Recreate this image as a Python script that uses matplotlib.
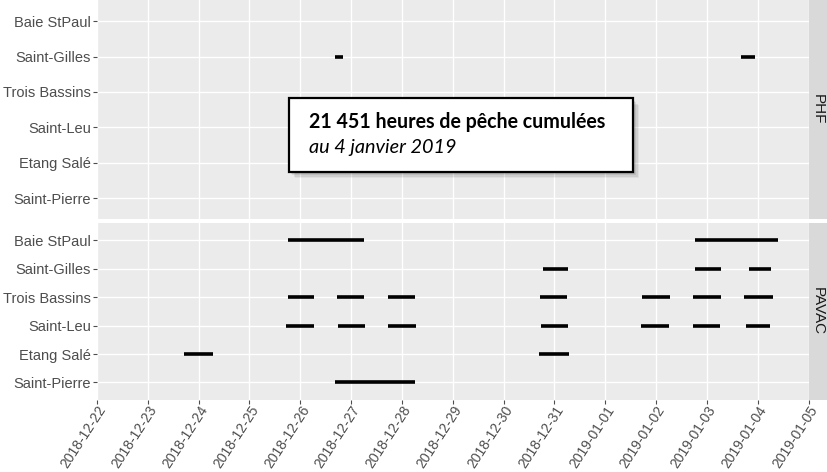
import matplotlib
matplotlib.use("Agg")
import matplotlib.pyplot as plt
import matplotlib.dates as mdates
import matplotlib.transforms as mtransforms
from matplotlib.patches import Rectangle
import pandas as pd

categories = ["Baie StPaul", "Saint-Gilles", "Trois Bassins", "Saint-Leu", "Etang Salé", "Saint-Pierre"]
facets = ["PHF", "PAVAC"]

# PHF trips
phf_site = ["Saint-Gilles", "Saint-Gilles"]
phf_start = ["2018-12-26 16:30", "2019-01-03 16:15"]
phf_end = ["2018-12-26 20:15", "2019-01-03 22:30"]

# PAVAC trips
pavac_site = [
    "Baie StPaul", "Baie StPaul",
    "Saint-Gilles", "Saint-Gilles", "Saint-Gilles",
    "Trois Bassins", "Trois Bassins", "Trois Bassins", "Trois Bassins", "Trois Bassins", "Trois Bassins", "Trois Bassins",
    "Saint-Leu", "Saint-Leu", "Saint-Leu", "Saint-Leu", "Saint-Leu", "Saint-Leu", "Saint-Leu",
    "Etang Salé", "Etang Salé",
    "Saint-Pierre",
]
pavac_start = [
    "2018-12-25 18:00", "2019-01-02 18:30",
    "2018-12-30 18:45", "2019-01-02 18:30", "2019-01-03 20:00",
    "2018-12-25 18:00", "2018-12-26 17:30", "2018-12-27 17:30", "2018-12-30 17:15", "2019-01-01 17:30", "2019-01-02 17:30", "2019-01-03 17:45",
    "2018-12-25 17:15", "2018-12-26 18:00", "2018-12-27 17:30", "2018-12-30 17:45", "2019-01-01 17:00", "2019-01-02 17:30", "2019-01-03 18:15",
    "2018-12-23 17:00", "2018-12-30 16:30",
    "2018-12-26 16:30",
]
pavac_end = [
    "2018-12-27 06:00", "2019-01-04 09:45",
    "2018-12-31 06:30", "2019-01-03 06:45", "2019-01-04 06:30",
    "2018-12-26 06:30", "2018-12-27 06:00", "2018-12-28 06:15", "2018-12-31 06:00", "2019-01-02 06:45", "2019-01-03 06:45", "2019-01-04 07:00",
    "2018-12-26 06:30", "2018-12-27 06:45", "2018-12-28 06:45", "2018-12-31 06:30", "2019-01-02 06:15", "2019-01-03 06:00", "2019-01-04 06:00",
    "2018-12-24 06:45", "2018-12-31 07:00",
    "2018-12-28 06:00",
]

x_min = "2018-12-22"
x_max = "2019-01-05"
tick_dates = pd.date_range(x_min, x_max, freq="D")
box_line1 = "21 451 heures de pêche cumulées"
box_line2 = "au 4 janvier 2019"

W, H = 827, 472
fig = plt.figure(figsize=(W / 100, H / 100), dpi=100)
fig.patch.set_facecolor("white")

left_px, right_px = 97, 808.5
panels = {
    "PHF": (0, 219.3),
    "PAVAC": (223.3, 399.5),
}
data = {
    "PHF": (phf_site, phf_start, phf_end),
    "PAVAC": (pavac_site, pavac_start, pavac_end),
}
ypos = {c: len(categories) - i for i, c in enumerate(categories)}

label_shift = mtransforms.ScaledTranslation(0.06, 0.0, fig.dpi_scale_trans)

for name in facets:
    top, bot = panels[name]
    ax = fig.add_axes([left_px / W, 1 - bot / H, (right_px - left_px) / W, (bot - top) / H])
    ax.set_facecolor("#EBEBEB")
    for s in ax.spines.values():
        s.set_visible(False)
    ax.set_xlim(mdates.date2num(pd.Timestamp(x_min)), mdates.date2num(pd.Timestamp(x_max)))
    ax.set_ylim(0.4, len(categories) + 0.6)
    ax.set_xticks(mdates.date2num(tick_dates))
    ax.set_yticks([ypos[c] for c in categories])
    ax.set_yticklabels(categories)
    ax.grid(True, color="white", linewidth=1.0)
    ax.set_axisbelow(True)
    ax.tick_params(axis="y", length=3, width=0.8, color="#4D4D4D", labelcolor="#4D4D4D",
                   labelsize=10.5, pad=1.5)
    for lab in ax.get_yticklabels():
        lab.set_fontfamily("Liberation Sans")
    sites, starts, ends = data[name]
    for s, a, b in zip(sites, starts, ends):
        xa = mdates.date2num(pd.Timestamp(a))
        xb = mdates.date2num(pd.Timestamp(b))
        ax.plot([xa, xb], [ypos[s], ypos[s]], color="black", linewidth=2.6,
                solid_capstyle="butt")
    if name == "PHF":
        ax.tick_params(axis="x", length=0, labelbottom=False)
    else:
        ax.tick_params(axis="x", length=3, width=0.8, color="#4D4D4D", labelcolor="#4D4D4D",
                       labelsize=10, pad=2.5)
        ax.set_xticklabels([d.strftime("%Y-%m-%d") for d in tick_dates])
        for lab in ax.get_xticklabels():
            lab.set_rotation(57)
            lab.set_ha("right")
            lab.set_va("center")
            lab.set_rotation_mode("anchor")
            lab.set_fontfamily("Liberation Sans")
            lab.set_transform(lab.get_transform() + label_shift)
    # strip
    sax = fig.add_axes([right_px / W, 1 - bot / H, (W - right_px) / W, (bot - top) / H])
    sax.set_facecolor("#D9D9D9")
    sax.set_xticks([])
    sax.set_yticks([])
    for s in sax.spines.values():
        s.set_visible(False)
    sax.text(0.5, 0.5, name, rotation=-90, ha="center", va="center", color="#1A1A1A",
             fontsize=11, family="Liberation Sans", transform=sax.transAxes)

# Annotation box (figure pixel coordinates)
bx0, by0, bx1, by1 = 288.5, 98.5, 632.5, 171.5
for k, a in enumerate([0.09, 0.09, 0.08, 0.07, 0.05]):
    off = 1.5 + k * 1.2
    sh = Rectangle(((bx0 + off) / W, 1 - (by1 + off) / H), (bx1 - bx0) / W, (by1 - by0) / H,
                   transform=fig.transFigure, facecolor="black", edgecolor="none", alpha=a)
    fig.add_artist(sh)
box = Rectangle((bx0 / W, 1 - by1 / H), (bx1 - bx0) / W, (by1 - by0) / H,
                transform=fig.transFigure, facecolor="white", edgecolor="black", linewidth=1.6)
fig.add_artist(box)
fig.text(309 / W, 1 - 128 / H, box_line1, fontsize=14.1, fontweight="bold", family="Lato",
         ha="left", va="baseline", color="black")
fig.text(309 / W, 1 - 153 / H, box_line2, fontsize=14.3, style="italic", family="Lato",
         ha="left", va="baseline", color="black")

fig.savefig("out.png", dpi=100)
